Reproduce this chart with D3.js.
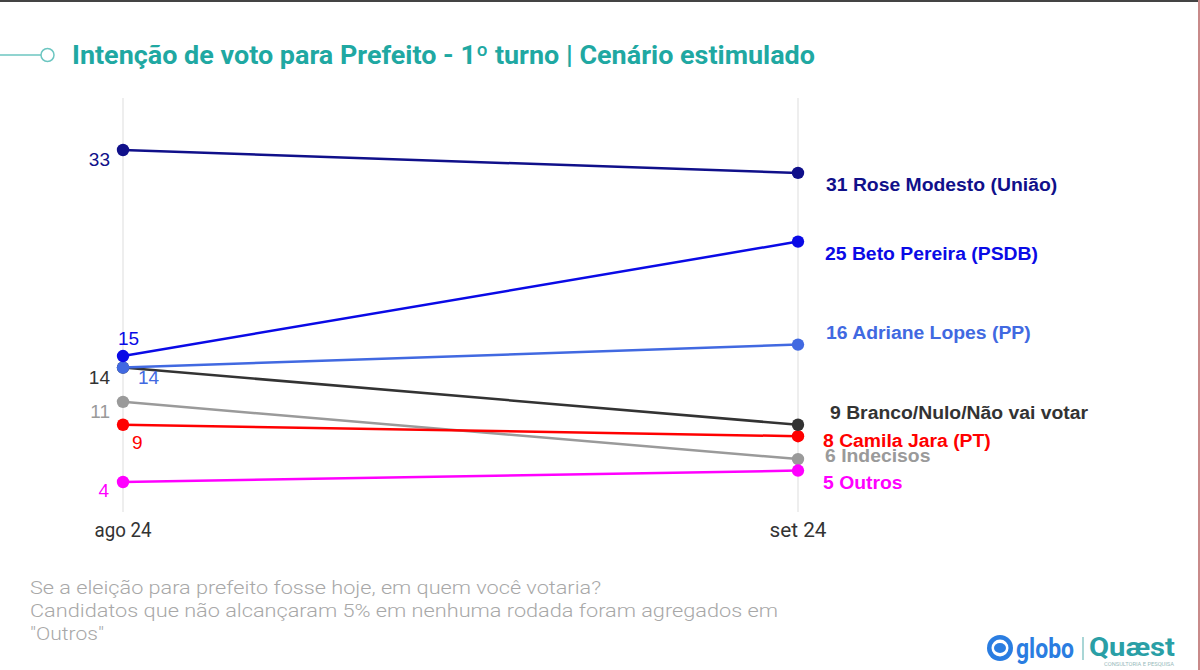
<!DOCTYPE html>
<html>
<head>
<meta charset="utf-8">
<script src="https://cdn.jsdelivr.net/npm/d3@7"></script>
<style>
  html, body { margin: 0; padding: 0; background: #fff; }
  svg { display: block; }
</style>
</head>
<body>
<svg id="chart" width="1200" height="670"></svg>
<script>
// ---- data ----
const periods = ["ago 24", "set 24"];
const candidates = ["Rose Modesto (União)", "Beto Pereira (PSDB)", "Adriane Lopes (PP)", "Branco/Nulo/Não vai votar", "Indecisos", "Camila Jara (PT)", "Outros"];
const agoValues = [33, 15, 14, 14, 11, 9, 4];
const setValues = [31, 25, 16, 9, 6, 8, 5];
const colors = ["#10108a", "#0a0ae6", "#4169e1", "#333333", "#9a9a9a", "#ff0000", "#ff00ff"];
const titleText = "Intenção de voto para Prefeito - 1º turno | Cenário estimulado";
const footnotes = ["Se a eleição para prefeito fosse hoje, em quem você votaria?",
  "Candidatos que não alcançaram 5% em nenhuma rodada foram agregados em",
  "\"Outros\""];

// label layout (offsets in px, not data)
const leftLabelPos = [
  {dx: -13, dy: 16, anchor: "end"},
  {dx: -5, dy: -11, anchor: "start"},
  {dx: 15, dy: 16, anchor: "start"},
  {dx: -13, dy: 16, anchor: "end"},
  {dx: -13, dy: 16, anchor: "end"},
  {dx: 9, dy: 24, anchor: "start"},
  {dx: -14, dy: 15, anchor: "end"}
];
const rightLabelPos = [
  {dx: 28, dy: 12}, {dx: 27, dy: 12}, {dx: 28, dy: -12}, {dx: 32, dy: -12},
  {dx: 27, dy: -3}, {dx: 25, dy: 5}, {dx: 25, dy: 12}
];

const svg = d3.select("#chart");

// frame decorations
svg.append("rect").attr("x", 0).attr("y", 0).attr("width", 1200).attr("height", 2).attr("fill", "#444");
svg.append("rect").attr("x", 1198).attr("y", 0).attr("width", 2).attr("height", 670).attr("fill", "#c98a8a");

// title
const teal = "#20a8a2";
svg.append("line").attr("x1", 0).attr("x2", 41).attr("y1", 55).attr("y2", 55)
  .attr("stroke", "#6cc6c1").attr("stroke-width", 1.5);
svg.append("circle").attr("cx", 47.5).attr("cy", 55).attr("r", 6.5)
  .attr("fill", "#fff").attr("stroke", "#6cc6c1").attr("stroke-width", 1.5);
svg.append("text").attr("x", 72).attr("y", 64)
  .attr("font-family", "Roboto").attr("font-weight", 700).attr("font-size", 25)
  .attr("fill", teal).attr("textLength", 743).attr("lengthAdjust", "spacingAndGlyphs")
  .text(titleText);

// scales
const x = d3.scalePoint().domain(periods).range([123, 798]);
const y = d3.scaleLinear().domain([4, 33]).range([482, 150]);

// grid lines
svg.append("g").selectAll("line").data(periods).join("line")
  .attr("x1", d => x(d)).attr("x2", d => x(d))
  .attr("y1", 98).attr("y2", 512)
  .attr("stroke", "#e8e8e8").attr("stroke-width", 1.5);

// x axis labels (drawn from the point scale domain)
svg.append("g").selectAll("text").data(x.domain()).join("text")
  .attr("x", d => x(d)).attr("y", 537)
  .attr("text-anchor", "middle")
  .attr("font-family", "Roboto").attr("font-size", 20).attr("fill", "#333")
  .attr("textLength", 57).attr("lengthAdjust", "spacingAndGlyphs")
  .text(d => d);

// series
const series = candidates.map((c, i) => ({name: c, values: [agoValues[i], setValues[i]], color: colors[i], i}));
const line = d3.line().x((d, j) => x(periods[j])).y(d => y(d));

const drawOrder = [4, 6, 5, 3, 2, 1, 0];
const g = svg.append("g");
drawOrder.forEach(i => {
  const s = series[i];
  g.append("path").attr("d", line(s.values)).attr("fill", "none")
    .attr("stroke", s.color).attr("stroke-width", 2.5);
  g.selectAll(null).data(s.values).join("circle")
    .attr("cx", (d, j) => x(periods[j])).attr("cy", d => y(d)).attr("r", 6.2)
    .attr("fill", s.color);
});

// left labels
series.forEach(s => {
  const p = leftLabelPos[s.i];
  svg.append("text")
    .attr("x", x(periods[0]) + p.dx).attr("y", y(s.values[0]) + p.dy)
    .attr("text-anchor", p.anchor)
    .attr("font-family", "Liberation Sans, Arial").attr("font-size", 19)
    .attr("fill", s.color).text(s.values[0]);
});

// right labels
series.forEach(s => {
  const p = rightLabelPos[s.i];
  const t = svg.append("text")
    .attr("x", x(periods[1]) + p.dx).attr("y", y(s.values[1]) + p.dy + 6)
    .attr("font-family", "Liberation Sans, Arial").attr("font-weight", 700).attr("font-size", 18)
    .attr("fill", s.color).text(s.values[1] + " " + s.name);
  const w = t.node().getComputedTextLength();
  t.attr("textLength", w * 1.075).attr("lengthAdjust", "spacingAndGlyphs");
});

// footnotes
const footLens = [571, 748, 74];
footnotes.forEach((t, k) => {
  svg.append("text").attr("x", 30).attr("y", 594 + k * 23)
    .attr("font-family", "Roboto").attr("font-weight", 300).attr("font-size", 19)
    .attr("fill", "#a8a8a8").attr("textLength", footLens[k]).attr("lengthAdjust", "spacingAndGlyphs")
    .text(t);
});

// logo
const lg = svg.append("g").attr("transform", "translate(987,634)");
lg.append("circle").attr("cx", 13).attr("cy", 14).attr("r", 13).attr("fill", "#2a7de1");
lg.append("circle").attr("cx", 13).attr("cy", 14).attr("r", 8.5).attr("fill", "#fff");
lg.append("ellipse").attr("cx", 13).attr("cy", 14).attr("rx", 6).attr("ry", 5).attr("fill", "#2a7de1");
lg.append("text").attr("x", 29).attr("y", 24).attr("font-family", "Roboto").attr("font-weight", 700)
  .attr("font-size", 27).attr("fill", "#2a7de1").attr("textLength", 58).attr("lengthAdjust", "spacingAndGlyphs").text("globo");
lg.append("line").attr("x1", 96).attr("x2", 96).attr("y1", 3).attr("y2", 26).attr("stroke", "#8cc9c8").attr("stroke-width", 1.5);
lg.append("text").attr("x", 102).attr("y", 22).attr("font-family", "Roboto").attr("font-weight", 700)
  .attr("font-size", 25).attr("fill", "#2a9fa6").attr("textLength", 86).attr("lengthAdjust", "spacingAndGlyphs").text("Quæst");
lg.append("text").attr("x", 117).attr("y", 32).attr("font-family", "Roboto")
  .attr("font-size", 5).attr("fill", "#9bb").attr("textLength", 70).attr("lengthAdjust", "spacingAndGlyphs").text("CONSULTORIA E PESQUISA");
</script>
</body>
</html>
